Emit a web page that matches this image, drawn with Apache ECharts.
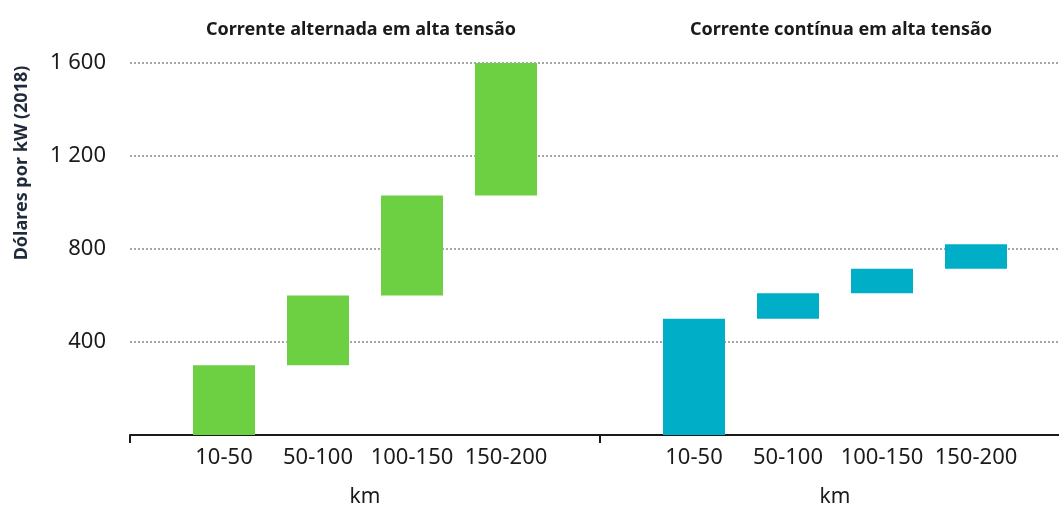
<!DOCTYPE html>
<html>
<head>
<meta charset="utf-8">
<script src="https://cdn.jsdelivr.net/npm/echarts@6/dist/echarts.min.js"></script>
<style>
  html, body { margin: 0; padding: 0; background: #fff; }
  #chart { width: 1059px; height: 506px; }
</style>
</head>
<body>
<div id="chart"></div>
<script>
// categories (empty slots pad both ends of each panel)
const categories = ['', '10-50', '50-100', '100-150', '150-200', '']

// Corrente alternada: bottom and top of each floating bar
const acLow = [null, 0, 300, 600, 1030, null]
const acHigh = [null, 300, 600, 1030, 1600, null]

// Corrente contínua
const dcLow = [null, 0, 500, 610, 715, null]
const dcHigh = [null, 500, 610, 715, 820, null]

const yTickLabels = ['', '400', '800', '1 200', '1 600']
const panelTitles = ['Corrente alternada em alta tensão', 'Corrente contínua em alta tensão']

const font = 'Noto Sans'
const textColor = '#1a1a1a'

let myChart = echarts.init(document.getElementById('chart'))

function span(low, high) {
    return high.map((h, i) => h == null ? null : h - low[i])
}

function xAxisFor(gridIndex) {
    return {
        type: 'category',
        gridIndex: gridIndex,
        data: categories,
        boundaryGap: false,
        name: 'km',
        nameLocation: 'middle',
        nameGap: 52,
        nameTextStyle: { fontFamily: font, fontSize: 21, color: textColor },
        axisLine: { lineStyle: { color: '#1a1a1a', width: 2 } },
        axisTick: {
            show: true,
            interval: (index) => index === 0,
            length: 8,
            lineStyle: { color: '#1a1a1a', width: 2 }
        },
        axisLabel: {
            interval: 0,
            margin: 12,
            fontFamily: font,
            fontSize: 22,
            color: textColor
        }
    }
}

function yAxisFor(gridIndex, showLabels) {
    return {
        type: 'value',
        gridIndex: gridIndex,
        min: 0,
        max: 1600,
        interval: 400,
        axisLine: { show: false },
        axisTick: { show: false },
        axisLabel: {
            show: showLabels,
            margin: 24,
            fontFamily: font,
            fontSize: 22,
            color: textColor,
            formatter: (value, index) => yTickLabels[index]
        },
        splitLine: {
            show: true,
            lineStyle: { color: '#a6a6a6', width: 2, type: [2, 2] }
        }
    }
}

function floatingBars(axisIndex, low, high, color) {
    return [
        {
            type: 'bar',
            stack: 'panel' + axisIndex,
            xAxisIndex: axisIndex,
            yAxisIndex: axisIndex,
            data: low,
            barWidth: 62,
            itemStyle: { color: 'transparent' },
            silent: true
        },
        {
            type: 'bar',
            stack: 'panel' + axisIndex,
            xAxisIndex: axisIndex,
            yAxisIndex: axisIndex,
            data: span(low, high),
            barWidth: 62,
            itemStyle: { color: color }
        }
    ]
}

let option = {
    animation: false,
    title: [
        {
            text: panelTitles[0],
            left: 356,
            top: 16,
            textAlign: 'center',
            textStyle: { fontFamily: font, fontSize: 18, fontWeight: 'bold', color: textColor }
        },
        {
            text: panelTitles[1],
            left: 836,
            top: 16,
            textAlign: 'center',
            textStyle: { fontFamily: font, fontSize: 18, fontWeight: 'bold', color: textColor }
        }
    ],
    grid: [
        { left: 130, width: 470, top: 63, bottom: 71, outerBoundsMode: 'none' },
        { left: 600, width: 470, top: 63, bottom: 71, outerBoundsMode: 'none' }
    ],
    xAxis: [xAxisFor(0), xAxisFor(1)],
    yAxis: [yAxisFor(0, true), yAxisFor(1, false)],
    graphic: [
        {
            type: 'text',
            x: 22,
            y: 163,
            rotation: Math.PI / 2,
            style: {
                text: 'Dólares por kW (2018)',
                font: 'bold 18px "Noto Sans"',
                fill: '#1f2a3a',
                align: 'center',
                verticalAlign: 'middle'
            }
        }
    ],
    series: [
        ...floatingBars(0, acLow, acHigh, '#6dd043'),
        ...floatingBars(1, dcLow, dcHigh, '#00aec7')
    ]
}

myChart.setOption(option)
</script>
</body>
</html>
